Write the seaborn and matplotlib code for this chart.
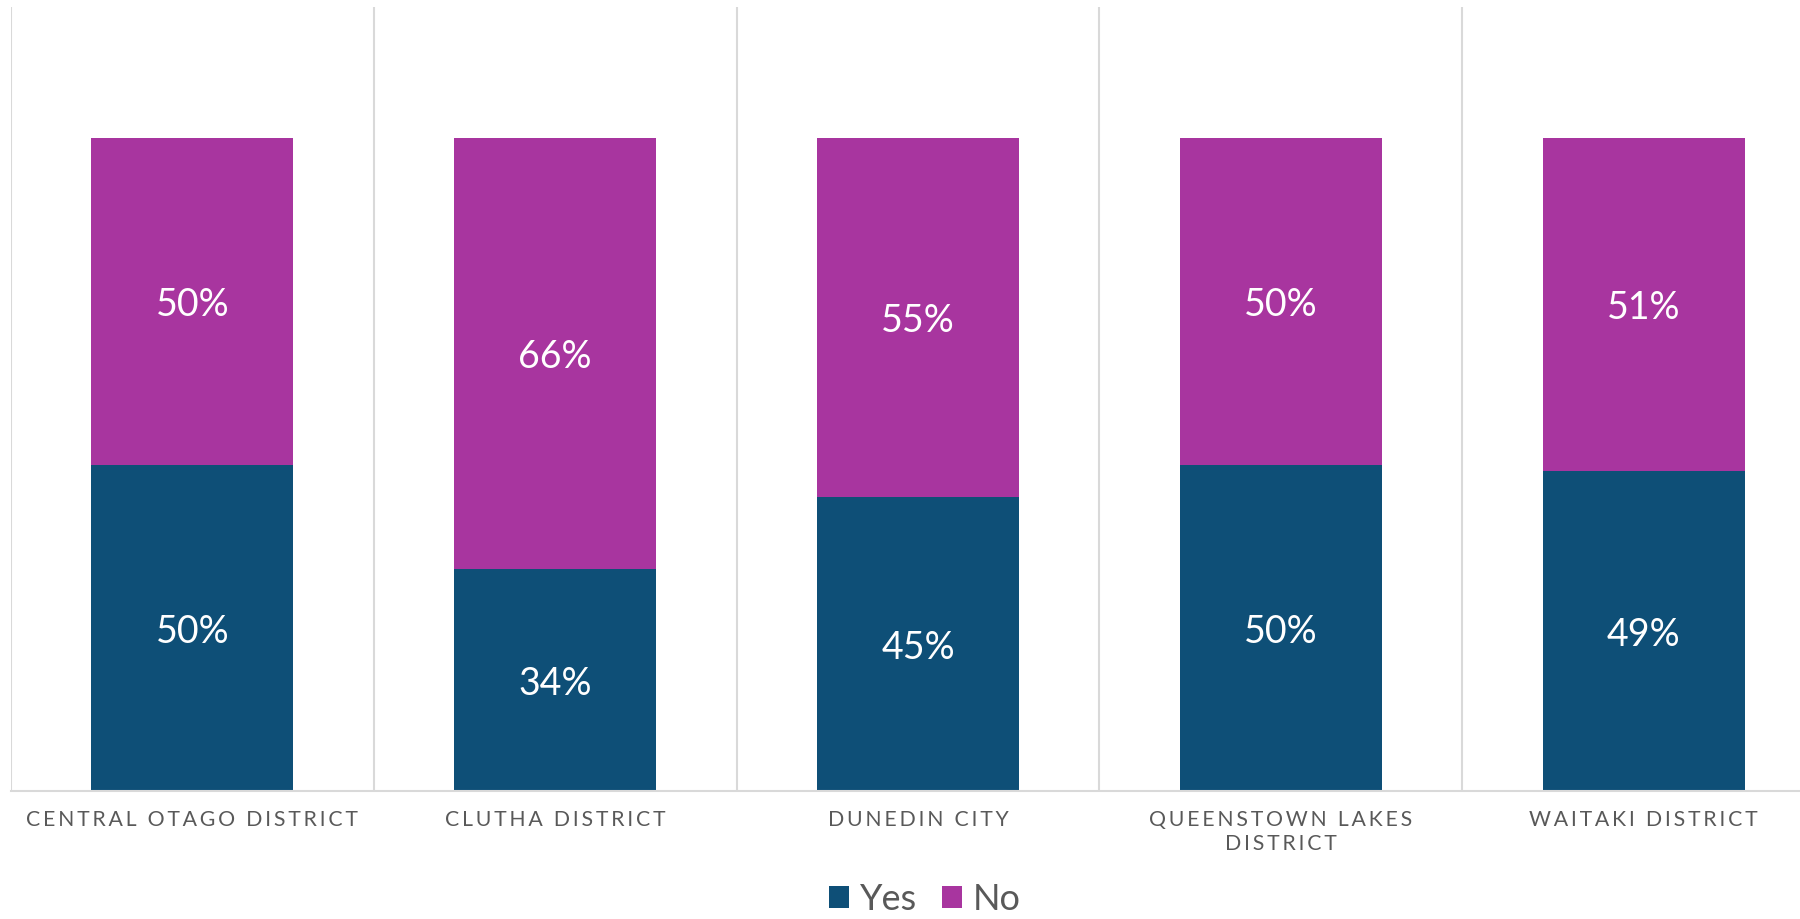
import numpy as np
import pandas as pd
import matplotlib
matplotlib.use("Agg")
import matplotlib.pyplot as plt
import seaborn as sns
from matplotlib.patches import Patch

categories = ["CENTRAL OTAGO DISTRICT", "CLUTHA DISTRICT", "DUNEDIN CITY",
              "QUEENSTOWN LAKES\nDISTRICT", "WAITAKI DISTRICT"]
yes_vals = [0.50, 0.34, 0.45, 0.50, 0.49]
no_vals = [0.50, 0.66, 0.55, 0.50, 0.51]
series = ["Yes", "No"]
colors = {"Yes": "#0E4F77", "No": "#A8359F"}

sns.set_theme(style="white")
plt.rcParams["font.family"] = ["Lato", "DejaVu Sans"]

df = pd.DataFrame({"cat": categories, "Yes": yes_vals, "No": no_vals})
df["total"] = df["Yes"] + df["No"]

fig = plt.figure(figsize=(18, 9.19), dpi=100)
ax = fig.add_axes([11 / 1800, 128 / 919, 1789 / 1800, 783.6 / 919])

sns.barplot(data=df, x="cat", y="total", color=colors["No"], width=0.557,
            saturation=1, ax=ax, linewidth=0)
sns.barplot(data=df, x="cat", y="Yes", color=colors["Yes"], width=0.557,
            saturation=1, ax=ax, linewidth=0)

ax.set_ylim(0, 1.2)
ax.set_xlim(-0.5, 4.431)
ax.set_xlabel("")
ax.set_ylabel("")
ax.set_yticks([])

for s in ["top", "right", "left"]:
    ax.spines[s].set_visible(False)
ax.spines["bottom"].set_color("#D9D9D9")
ax.spines["bottom"].set_linewidth(1.5)

for b in np.arange(-0.5, 5.0, 1.0):
    ax.axvline(b, color="#D9D9D9", lw=1.5, zorder=0)

def spaced(s):
    return "\n".join("\u200a\u200a".join(list(line)) for line in s.split("\n"))

ax.set_xticks(range(len(categories)))
ax.set_xticklabels([spaced(c) for c in categories], fontsize=15.3,
                   color="#595959", linespacing=1.2)
ax.tick_params(axis="x", length=0, pad=14)

for i, (y, n) in enumerate(zip(yes_vals, no_vals)):
    ax.text(i, y / 2 - 0.006, f"{round(y*100)}%", ha="center", va="center",
            color="white", fontsize=27)
    ax.text(i, y + n / 2 - 0.006, f"{round(n*100)}%", ha="center", va="center",
            color="white", fontsize=27)

handles = [Patch(facecolor=colors[s], edgecolor="none") for s in series]
fig.legend(handles, series, loc="center", bbox_to_anchor=(925 / 1800, 20 / 919),
           ncol=2, frameon=False, labelcolor="#595959", borderpad=0.1,
           handlelength=0.55, handleheight=0.55, handletextpad=0.3,
           columnspacing=0.7, prop={"size": 26})

fig.savefig("out.png", dpi=100)
